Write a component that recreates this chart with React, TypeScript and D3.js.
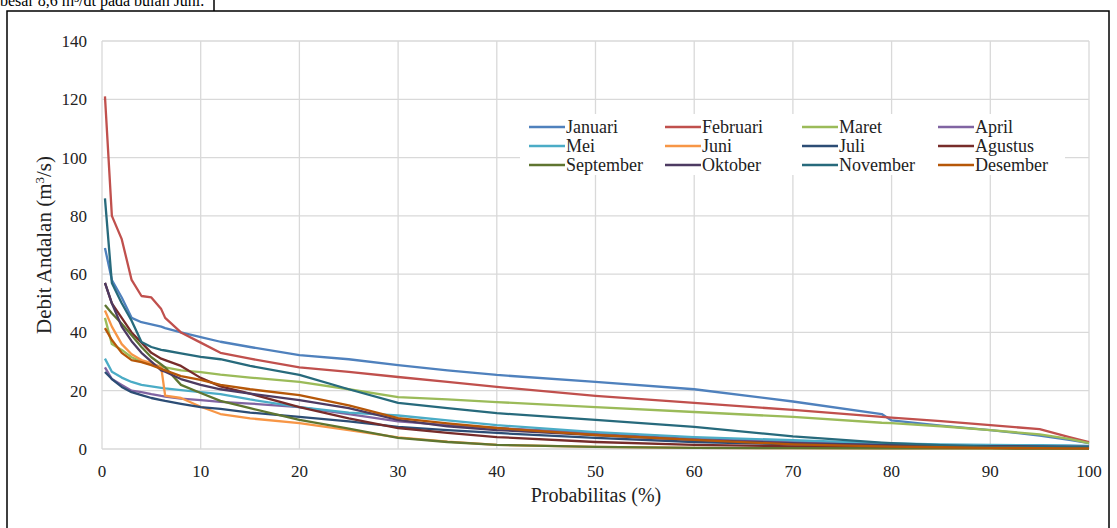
import React from "react";
import * as d3 from "d3";

// probability grid (%) shared by all months
const prob = [0.3, 1, 2, 3, 4, 5, 6, 6.4, 8, 10, 12, 15, 20, 25, 30, 35, 40, 50, 60, 70, 79, 80, 85, 90, 95, 98, 100];

const januari = [69, 58, 52, 45, 43.5, 42.8, 42, 41.5, 40, 38.4, 36.8, 35, 32.2, 30.8, 28.8, 27, 25.4, 23, 20.5, 16.3, 12, 9.8, 8, 6.5, 4.6, 3.1, 2];
const februari = [121, 80, 72, 58, 52.5, 52, 48, 45, 40, 36.5, 33, 31, 28, 26.5, 24.7, 23, 21.3, 18.2, 15.8, 13.4, 11, 10.8, 9.6, 8.2, 6.8, 4.1, 2.4];
const maret = [45, 36, 34, 31.5, 30, 29, 28.3, 28, 27, 26.4, 25.5, 24.5, 23, 20.5, 17.8, 17, 16.1, 14.4, 12.7, 11, 9, 8.9, 7.8, 6.5, 5, 3.5, 2];
const april = [28, 24, 22, 20, 19.5, 18.8, 18.2, 18, 17.3, 16.8, 16.2, 15.6, 14.4, 12, 9.5, 8.2, 7.2, 5.5, 3.8, 2.5, 1.6, 1.5, 1.2, 1, 0.9, 0.8, 0.7];
const mei = [31, 26.5, 24.5, 23, 22, 21.5, 21, 20.8, 20.2, 19.5, 18.8, 17, 14.4, 12.5, 11.5, 9.8, 8.2, 5.8, 4.1, 3, 2, 1.9, 1.6, 1.4, 1.3, 1.2, 1.1];
const juni = [47.5, 42, 36, 32.5, 30.5, 29.5, 28, 18.3, 17.5, 14.5, 12, 10.5, 8.9, 6.5, 4, 2.5, 1.4, 0.7, 0.4, 0.3, 0.2, 0.2, 0.2, 0.15, 0.1, 0.1, 0.1];
const juli = [26.4, 24, 21.3, 19.5, 18.5, 17.5, 16.8, 16.5, 15.5, 14.4, 13.8, 12.5, 11, 9.5, 7.6, 6.5, 5.5, 3.8, 2.4, 1.6, 1.1, 1, 0.8, 0.6, 0.5, 0.5, 0.4];
const agustus = [57, 50, 45, 40, 36.5, 33, 31, 30.5, 28.5, 24.4, 21.5, 19, 14.4, 10.5, 7.2, 5.5, 4.1, 2.4, 1.4, 0.9, 0.6, 0.6, 0.5, 0.4, 0.3, 0.3, 0.3];
const september = [49.4, 46.6, 43, 39, 35, 31.5, 29, 28, 22, 19.2, 16.5, 14, 10, 7, 3.8, 2.4, 1.4, 0.7, 0.4, 0.3, 0.2, 0.2, 0.2, 0.2, 0.15, 0.1, 0.1];
const oktober = [57, 50, 42, 37, 33, 30, 27, 26.5, 24, 22, 20.5, 19, 16.8, 14, 10, 7.8, 6.5, 4.8, 3.1, 2, 1.4, 1.4, 1.1, 1, 0.9, 0.8, 0.8];
const november = [86, 57, 50, 44, 36.7, 35, 34, 33.8, 32.8, 31.6, 30.8, 28.5, 25.4, 20.5, 15.8, 14, 12.3, 10, 7.6, 4.3, 2.2, 2, 1.3, 0.8, 0.7, 0.6, 0.6];
const desember = [41.5, 37.4, 33, 30.5, 29.8, 28.8, 27.5, 27, 25, 23.7, 22, 20.5, 18.5, 15, 10.6, 8.8, 7.2, 4.8, 3.1, 1.6, 0.9, 0.8, 0.6, 0.4, 0.3, 0.2, 0.2];

const months = ["Januari", "Februari", "Maret", "April", "Mei", "Juni", "Juli", "Agustus", "September", "Oktober", "November", "Desember"];
const monthValues = [januari, februari, maret, april, mei, juni, juli, agustus, september, oktober, november, desember];
const colors = ["#4F81BD", "#C0504D", "#9BBB59", "#8064A2", "#4BACC6", "#F79646", "#2C4D75", "#772C2A", "#5F7530", "#4D3B62", "#276A7C", "#B65708"];

const xTicks = [0, 10, 20, 30, 40, 50, 60, 70, 80, 90, 100];
const yTicks = [0, 20, 40, 60, 80, 100, 120, 140];

const W = 1117;
const H = 528;
const serif = "Liberation Serif, Times New Roman, serif";

export default function App() {
  const x = d3.scaleLinear().domain([0, 100]).range([102, 1089]);
  const y = d3.scaleLinear().domain([0, 140]).range([449, 41]);

  const line = d3
    .line<number>()
    .x((_, i) => x(prob[i]))
    .y((v) => y(v));

  // legend layout: 4 columns, 3 rows
  const legX = [529, 665, 802, 938];
  const legY = [127, 146, 165];

  return (
    <svg
      width={W}
      height={H}
      style={{ position: "absolute", left: 0, top: 0, background: "#fff", fontFamily: serif }}
    >
      {/* cut-off line of the page text above the figure */}
      <text x={0} y={6} fontSize={16} fill="#000" style={{ fontFamily: serif }}>
        besar 8,6 m³/dt pada bulan Juni.
      </text>
      <line x1={214} x2={214} y1={0} y2={11} stroke="#000" strokeWidth={1.5} />
      <rect x={7} y={11} width={1102} height={600} fill="none" stroke="#000" strokeWidth={1.5} />

      {/* gridlines */}
      {yTicks.map((t) => (
        <line key={"gy" + t} x1={x(0)} x2={x(100)} y1={y(t)} y2={y(t)} stroke="#D9D9D9" strokeWidth={1.3} />
      ))}
      {xTicks.map((t) => (
        <line key={"gx" + t} x1={x(t)} x2={x(t)} y1={y(0)} y2={y(140)} stroke="#D9D9D9" strokeWidth={1.3} />
      ))}

      {/* tick labels */}
      {yTicks.map((t) => (
        <text key={"ty" + t} x={87} y={y(t) + 6} fontSize={17} textAnchor="end" fill="#222" style={{ fontFamily: serif }}>
          {t}
        </text>
      ))}
      {xTicks.map((t) => (
        <text key={"tx" + t} x={x(t)} y={477} fontSize={17} textAnchor="middle" fill="#222" style={{ fontFamily: serif }}>
          {t}
        </text>
      ))}

      {/* axis titles */}
      <text x={596} y={502} fontSize={20} textAnchor="middle" fill="#222" style={{ fontFamily: serif }}>
        Probabilitas (%)
      </text>
      <text transform="translate(51,245) rotate(-90)" fontSize={21} textAnchor="middle" fill="#222" style={{ fontFamily: serif }}>
        Debit Andalan (m<tspan baselineShift="super" fontSize={13}>3</tspan>/s)
      </text>

      {/* series */}
      {monthValues.map((vals, i) => (
        <path
          key={months[i]}
          d={line(vals) || ""}
          fill="none"
          stroke={colors[i]}
          strokeWidth={2.3}
          strokeLinejoin="round"
        />
      ))}

      {/* legend */}
      <rect x={520} y={114} width={545} height={61} fill="#fff" />
      {months.map((m, i) => {
        const cx = legX[i % 4];
        const cy = legY[Math.floor(i / 4)];
        return (
          <g key={"leg" + m}>
            <line x1={cx} x2={cx + 36} y1={cy} y2={cy} stroke={colors[i]} strokeWidth={2.5} />
            <text x={cx + 37} y={cy + 6} fontSize={18} fill="#222" style={{ fontFamily: serif }}>
              {m}
            </text>
          </g>
        );
      })}
    </svg>
  );
}
